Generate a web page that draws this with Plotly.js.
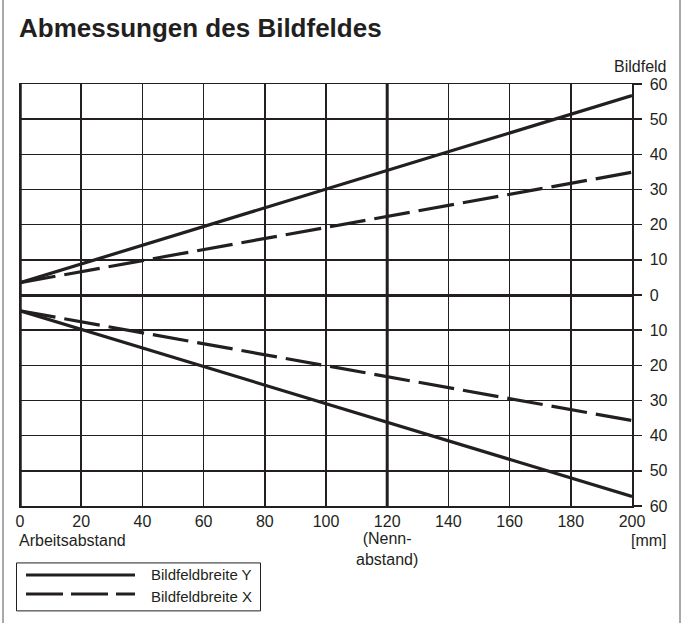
<!DOCTYPE html>
<html><head><meta charset="utf-8">
<script src="https://cdn.plot.ly/plotly-3.0.1.min.js"></script>
<style>html,body{margin:0;padding:0;background:#fff}#chart{width:683px;height:623px}</style>
</head><body><div id="chart"></div>
<script>
// Data (mm)
const distance = [0, 200];
const widthYUpper = [3.5, 56.7];
const widthXUpper = [3.5, 34.9];
const widthYLower = [-4.5, -57.3];
const widthXLower = [-4.5, -35.7];
const xTicks = [0, 20, 40, 60, 80, 100, 120, 140, 160, 180, 200];
const yTicks = [-60, -50, -40, -30, -20, -10, 0, 10, 20, 30, 40, 50, 60];
const yTickText = yTicks.map(v => String(Math.abs(v)));
const seriesNames = ['Bildfeldbreite Y', 'Bildfeldbreite X'];

const ink = '#231f20';
const FONT = 'Liberation Sans, Arial, Helvetica, sans-serif';
const solid = {color: ink, width: 3.2};
const dashed = {color: ink, width: 3.2, dash: '36px,9px'};

const traces = [
  {x: distance, y: widthYUpper, mode: 'lines', line: solid, name: seriesNames[0], showlegend: false},
  {x: distance, y: widthXUpper, mode: 'lines', line: dashed, name: seriesNames[1], showlegend: false},
  {x: distance, y: widthYLower, mode: 'lines', line: solid, name: seriesNames[0], showlegend: false},
  {x: distance, y: widthXLower, mode: 'lines', line: dashed, name: seriesNames[1], showlegend: false}
];

const W = 683, H = 623, ml = 20, mr = 51, mt = 83.5, mb = 117;
const pw = W - ml - mr, ph = H - mt - mb;
const px = p => (p - ml) / pw;
const py = p => (H - mb - p) / ph;

const shapes = [
  {type: 'line', xref: 'x', yref: 'y', x0: 120, x1: 120, y0: -60, y1: 60, line: {color: ink, width: 3}, layer: 'below'},
  {type: 'line', xref: 'x', yref: 'y', x0: 0, x1: 0, y0: -60, y1: 60, line: {color: ink, width: 3.5}, layer: 'above'},
  {type: 'line', xref: 'paper', yref: 'paper', x0: px(3), x1: px(3), y0: py(-5), y1: py(630), line: {color: '#555', width: 1}},
  {type: 'line', xref: 'paper', yref: 'paper', x0: px(680), x1: px(680), y0: py(-5), y1: py(630), line: {color: '#555', width: 1}},
  {type: 'rect', xref: 'paper', yref: 'paper', x0: px(16.5), x1: px(260.5), y0: py(563), y1: py(611), line: {color: ink, width: 1}, fillcolor: 'rgba(0,0,0,0)'},
  {type: 'line', xref: 'paper', yref: 'paper', x0: px(26), x1: px(135), y0: py(575), y1: py(575), line: {color: ink, width: 3}},
  {type: 'line', xref: 'paper', yref: 'paper', x0: px(26), x1: px(135), y0: py(594), y1: py(594), line: {color: ink, width: 3, dash: '37px,8px'}}
];

const lab = {family: FONT, size: 16, color: ink};
const leg = {family: FONT, size: 15, color: ink};
const annotations = [
  {text: 'Bildfeld', xref: 'paper', yref: 'paper', x: px(668), y: py(66), xanchor: 'right', yanchor: 'middle', showarrow: false, font: lab},
  {text: 'Arbeitsabstand', xref: 'paper', yref: 'paper', x: px(17), y: py(541), xanchor: 'left', yanchor: 'middle', showarrow: false, font: lab},
  {text: '(Nenn-<br>abstand)', xref: 'x', yref: 'paper', x: 120, y: py(549), xanchor: 'center', yanchor: 'middle', showarrow: false, font: lab},
  {text: '[mm]', xref: 'paper', yref: 'paper', x: px(669), y: py(541), xanchor: 'right', yanchor: 'middle', showarrow: false, font: lab},
  {text: seriesNames[0], xref: 'paper', yref: 'paper', x: px(149), y: py(575), xanchor: 'left', yanchor: 'middle', showarrow: false, font: leg},
  {text: seriesNames[1], xref: 'paper', yref: 'paper', x: px(149), y: py(597), xanchor: 'left', yanchor: 'middle', showarrow: false, font: leg}
];

const layout = {
  width: W, height: H,
  margin: {l: ml, r: mr, t: mt, b: mb, pad: 0},
  paper_bgcolor: '#fff', plot_bgcolor: '#fff',
  title: {text: 'Abmessungen des Bildfeldes', font: {family: FONT, size: 26, color: ink, weight: 'bold'},
          xref: 'container', yref: 'container', x: 19/683, xanchor: 'left', y: 1 - 28/623, yanchor: 'middle'},
  showlegend: false,
  xaxis: {range: [0, 200], tickvals: xTicks, ticktext: xTicks.map(String), showgrid: true, gridcolor: ink, gridwidth: 1.5,
          zeroline: false, showline: true, linecolor: ink, linewidth: 1.5, mirror: true, ticks: '', ticklen: 0,
          tickfont: lab, fixedrange: true},
  yaxis: {range: [-60, 60], side: 'right', tickvals: yTicks, ticktext: yTickText, showgrid: true, gridcolor: ink, gridwidth: 1.5,
          zeroline: true, zerolinecolor: ink, zerolinewidth: 3, showline: true, linecolor: ink, linewidth: 1.5, mirror: true,
          ticks: 'outside', ticklen: 8, tickwidth: 1.5, tickcolor: ink, tickfont: lab, ticklabelstandoff: 5, fixedrange: true},
  shapes: shapes,
  annotations: annotations
};

Plotly.newPlot('chart', traces, layout, {staticPlot: true, displayModeBar: false});
</script></body></html>
